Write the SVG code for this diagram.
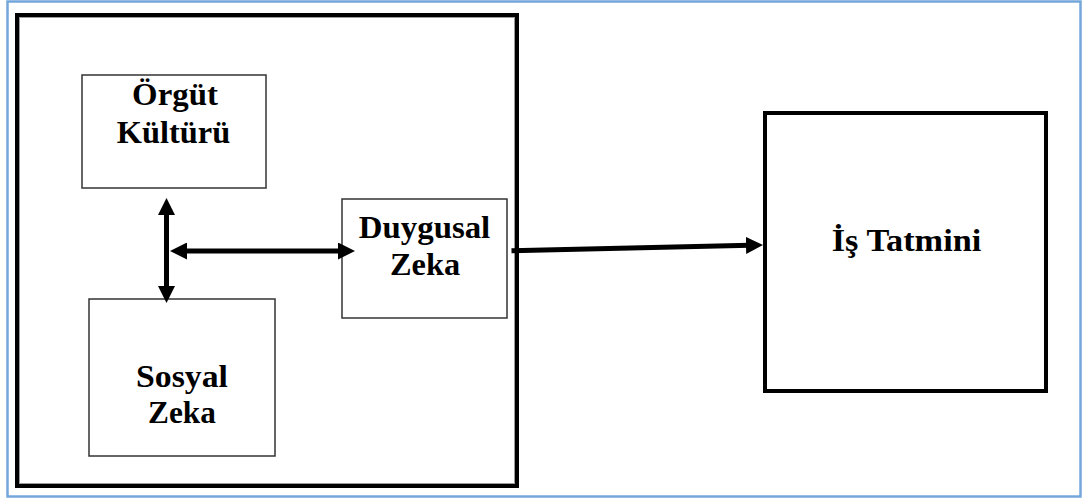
<svg xmlns="http://www.w3.org/2000/svg" width="1088" height="503" viewBox="0 0 1088 503">
  <style>
    .frame { fill: none; stroke: #74a6dc; stroke-width: 2.5; }
    .outer { fill: none; stroke: #000; stroke-width: 4; }
    .inner-gray { fill: none; stroke: #9a9a9a; stroke-width: 1; }
    .box { fill: #fff; stroke: #333; stroke-width: 1.5; }
    .bigbox { fill: #fff; stroke: #000; stroke-width: 4; }
    .lbl { font-family: "Liberation Serif", "Times New Roman", serif; font-weight: bold; font-size: 31px; fill: #000; text-anchor: middle; }
    .conn { fill: none; stroke: #000; stroke-width: 5; }
  </style>
  <defs>
    <marker id="head" markerUnits="userSpaceOnUse" markerWidth="17" markerHeight="17" refX="4" refY="8.5" orient="auto-start-reverse" viewBox="0 0 17 17">
      <path d="M0,0 L17,8.5 L0,17 Z" fill="#000"/>
    </marker>
  </defs>
  <rect width="1088" height="503" fill="#fff"/>
  <rect class="frame" x="7.5" y="1.5" width="1073" height="495"/>

  <g id="container">
    <rect class="outer" x="17" y="15" width="500" height="471"/>
    <rect class="inner-gray" x="19.5" y="17.5" width="495" height="466"/>
  </g>

  <g id="orgut-kulturu">
    <rect class="box" x="82" y="75" width="184" height="113"/>
    <text class="lbl" transform="translate(175,105) scale(1.06,1)" x="0" y="0">Örgüt</text>
    <text class="lbl" transform="translate(173.5,143) scale(1.045,1)" x="0" y="0">Kültürü</text>
  </g>

  <g id="sosyal-zeka">
    <rect class="box" x="89" y="299" width="186" height="157"/>
    <text class="lbl" transform="translate(182,387) scale(1.09,1)" x="0" y="0">Sosyal</text>
    <text class="lbl" transform="translate(182,423) scale(1.01,1)" x="0" y="0">Zeka</text>
  </g>

  <g id="duygusal-zeka">
    <rect class="box" x="342" y="199" width="165" height="119"/>
    <text class="lbl" transform="translate(424.5,238) scale(1.06,1)" x="0" y="0">Duygusal</text>
    <text class="lbl" transform="translate(425,275) scale(1.045,1)" x="0" y="0">Zeka</text>
  </g>

  <g id="is-tatmini">
    <rect class="bigbox" x="765" y="113" width="281" height="278"/>
    <text class="lbl" transform="translate(906.5,251) scale(1.105,1)" x="0" y="0">İş Tatmini</text>
  </g>

  <g id="connectors">
    <line class="conn" x1="166.5" y1="211" x2="166.5" y2="290" marker-start="url(#head)" marker-end="url(#head)"/>
    <line class="conn" x1="183" y1="251" x2="342" y2="251" marker-start="url(#head)" marker-end="url(#head)"/>
    <line class="conn" x1="511.5" y1="250.7" x2="750" y2="245.3" marker-end="url(#head)"/>
  </g>
</svg>
